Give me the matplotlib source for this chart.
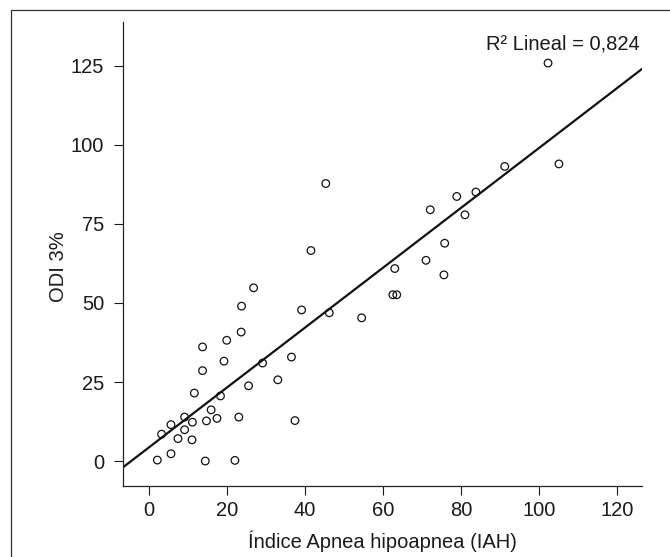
import numpy as np
import matplotlib
matplotlib.use("Agg")
import matplotlib.pyplot as plt
from matplotlib.patches import Rectangle

plt.rcParams['font.family'] = ['Liberation Sans', 'DejaVu Sans']

# Data
iah = [2.1, 3.2, 5.6, 5.6, 7.4, 9.1, 9.1, 11.0, 11.1, 11.6,
       13.7, 13.7, 14.4, 14.7, 15.9, 17.4, 18.3, 19.2, 19.9, 22.0,
       23.0, 23.6, 23.7, 25.5, 26.8, 29.1, 33.0, 36.5, 37.4, 39.1,
       41.5, 45.3, 46.2, 54.5, 62.5, 63.5, 63.0, 71.0, 72.1, 75.6,
       75.8, 78.9, 81.0, 83.8, 91.2, 102.3, 105.1]
odi = [0.3, 8.5, 2.3, 11.5, 7.1, 13.9, 9.9, 6.7, 12.3, 21.5,
       36.1, 28.6, 0.0, 12.7, 16.2, 13.5, 20.6, 31.6, 38.2, 0.2,
       13.9, 40.8, 49.0, 23.8, 54.8, 31.0, 25.7, 32.9, 12.8, 47.8,
       66.6, 87.8, 46.9, 45.3, 52.6, 52.6, 60.9, 63.5, 79.5, 58.9,
       68.9, 83.7, 77.9, 85.1, 93.2, 125.9, 94.0]

x_ticks = [0, 20, 40, 60, 80, 100, 120]
y_ticks = [0, 25, 50, 75, 100, 125]
r2_text = "R² Lineal = 0,824"
x_label = "Índice Apnea hipoapnea (IAH)"
y_label = "ODI 3%"

xlim = (-6.7, 126.4)
ylim = (-7.9, 138.9)

txt = '#1a1a1a'
fig = plt.figure(figsize=(6.7, 5.57), dpi=100)
ax = fig.add_axes([123/670, 1-486/557, (642-123)/670, (486-22)/557])

# outer frame (left and top visible)
fig.patches.append(Rectangle((11/670, -0.2), 1.2, (1-10/557)+0.2, transform=fig.transFigure,
                             fill=False, edgecolor='#333333', linewidth=0.9))

ax.scatter(iah, odi, s=30, facecolors='none', edgecolors='#111111', linewidths=0.9, zorder=3)

coef = np.polyfit(iah, odi, 1)
xx = np.array(xlim)
ax.plot(xx, np.polyval(coef, xx), color='#111111', linewidth=1.6, zorder=2)

ax.set_xlim(*xlim)
ax.set_ylim(*ylim)
ax.set_xticks(x_ticks)
ax.set_yticks(y_ticks)
ax.tick_params(axis='both', direction='out', length=6.5, width=0.8, colors=txt, labelsize=14.5)
ax.tick_params(axis='y', pad=7)
ax.tick_params(axis='x', pad=4)
for s in ['top', 'right']:
    ax.spines[s].set_visible(False)
for s in ['left', 'bottom']:
    ax.spines[s].set_linewidth(0.9)
    ax.spines[s].set_color('#222222')

ax.set_xlabel(x_label, fontsize=14.5, color=txt)
ax.set_ylabel(y_label, fontsize=14.5, color=txt)
ax.xaxis.set_label_coords(0.5, (486-541)/464)
ax.xaxis.label.set_va('center')
ax.yaxis.set_label_coords((58-123)/519, (486-267)/464)
ax.yaxis.label.set_va('center')

ax.text(0.9965, (486-44)/464, r2_text, transform=ax.transAxes, ha='right', va='center',
        fontsize=14.5, color=txt)

fig.savefig('out.png', dpi=100)
